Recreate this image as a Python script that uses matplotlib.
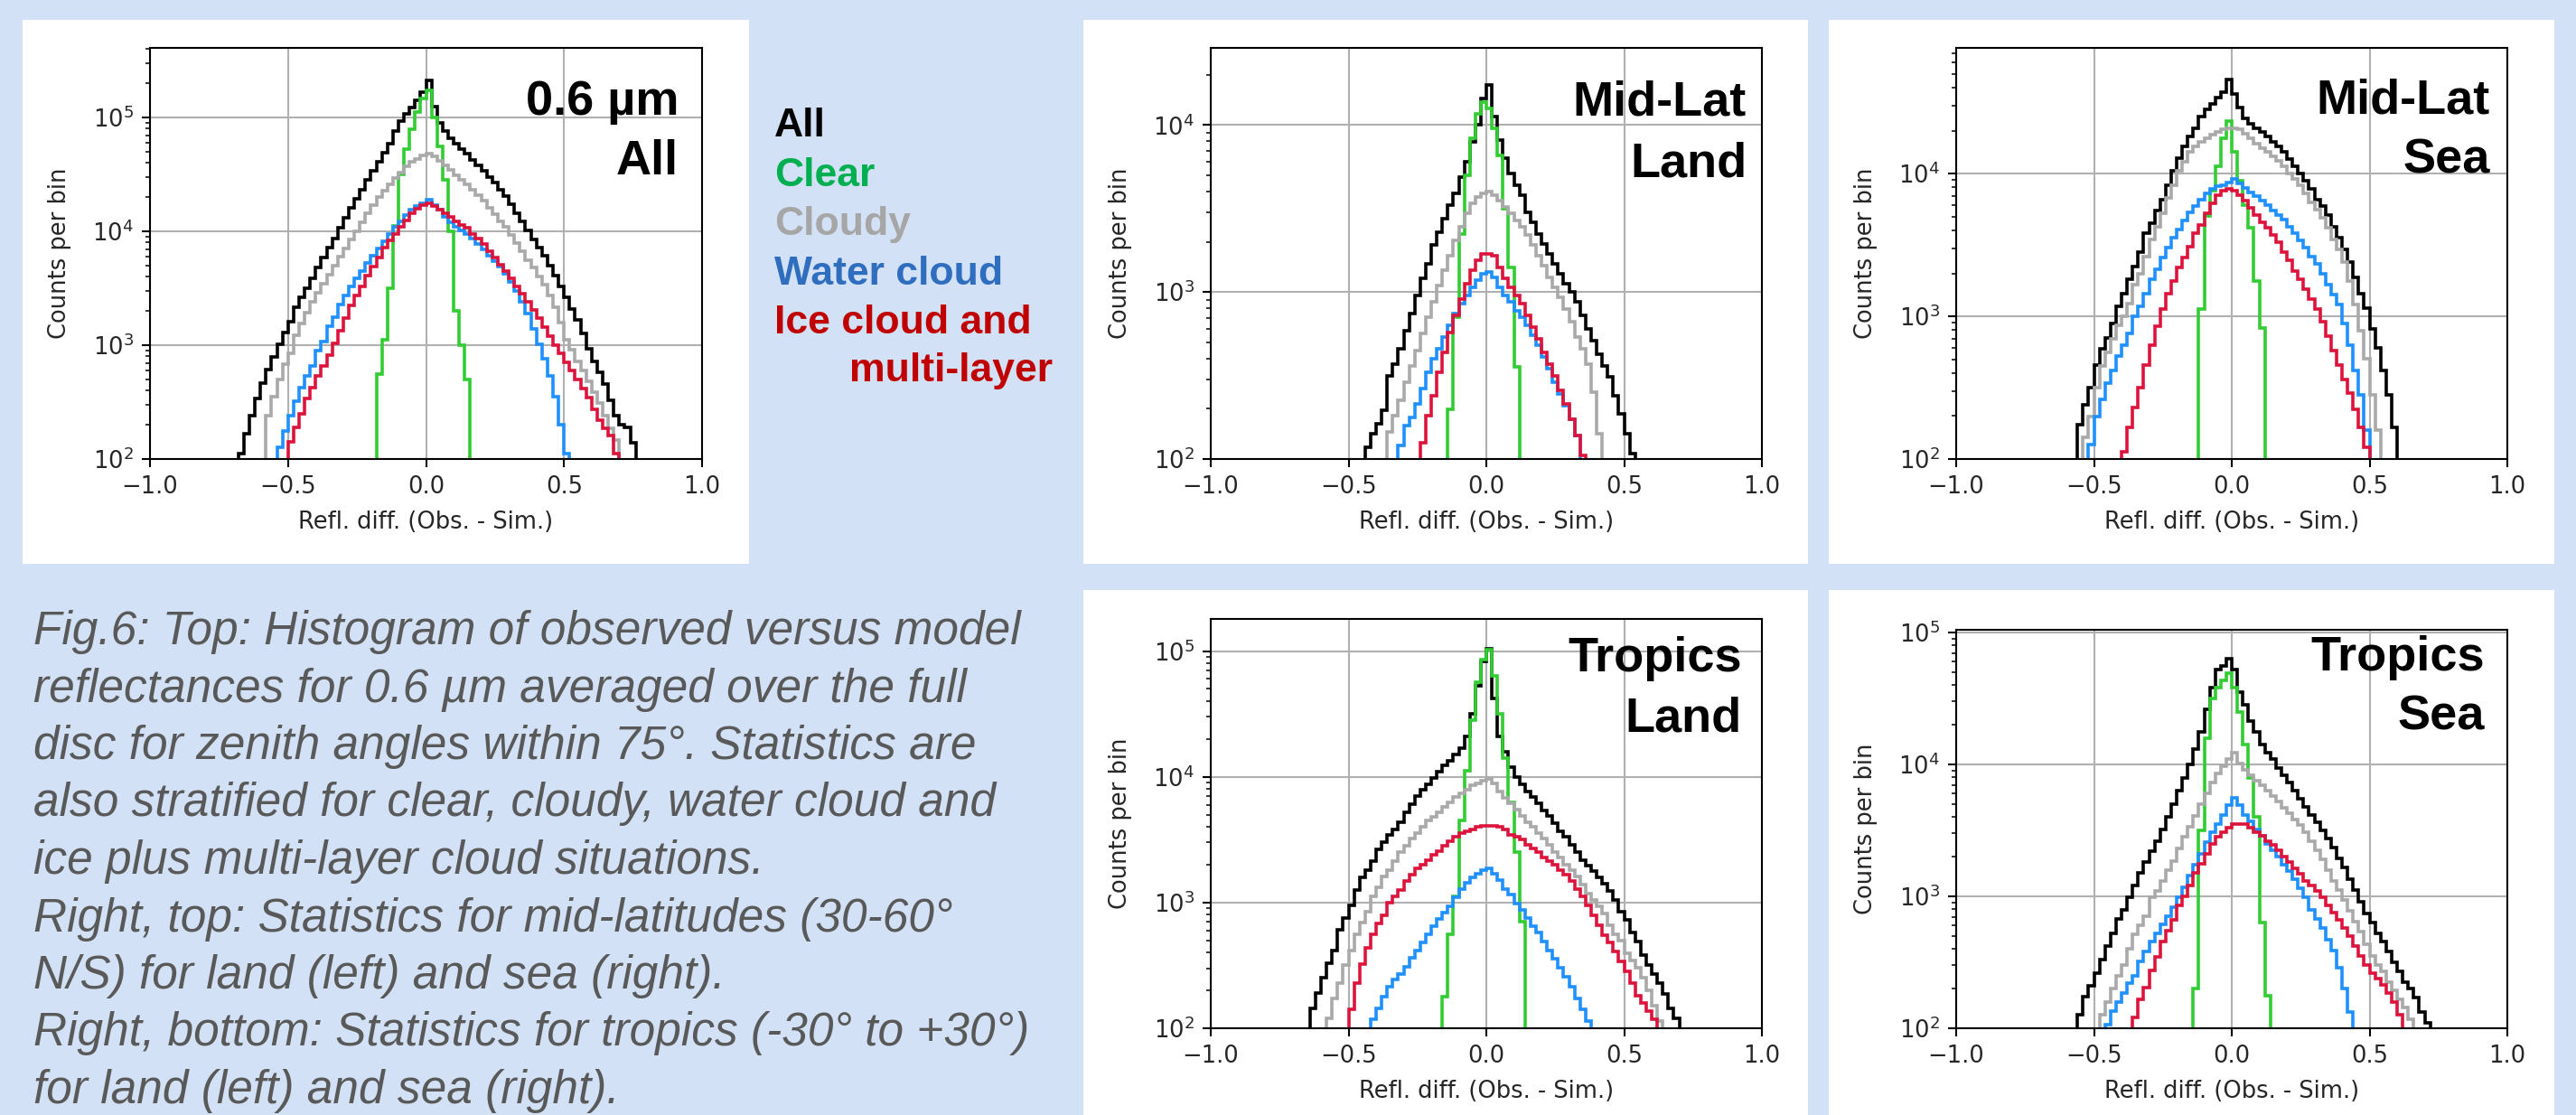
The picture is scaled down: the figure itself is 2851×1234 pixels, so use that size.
import numpy as np
import matplotlib
matplotlib.use("Agg")
import matplotlib.pyplot as plt
from matplotlib.patches import Rectangle

# ---------------- data: log10(counts per bin), bins of width 0.02 ----------------
BIN = 0.02

# Panel 1: 0.6 um, All
p1_all_x0 = -0.70
p1_all = [1.9, 2.05, 2.22, 2.38, 2.53, 2.67, 2.79, 2.90, 3.01, 3.11, 3.21, 3.33, 3.42, 3.50, 3.59,
          3.68, 3.77, 3.86, 3.94, 4.03, 4.12, 4.21, 4.29, 4.37, 4.45, 4.53, 4.61, 4.69, 4.77, 4.88,
          4.97, 5.03, 5.09, 5.15, 5.22, 5.33, 5.10, 4.95, 4.88, 4.82, 4.77, 4.72, 4.68, 4.63, 4.58,
          4.53, 4.48, 4.43, 4.37, 4.31, 4.24, 4.16, 4.09, 4.01, 3.93, 3.86, 3.79, 3.70, 3.61, 3.52,
          3.42, 3.32, 3.22, 3.10, 2.97, 2.86, 2.76, 2.66, 2.52, 2.38, 2.30, 2.28, 2.14, 1.8]
p1_clear_x0 = -0.18
p1_clear = [2.75, 3.05, 3.50, 4.05, 4.50, 4.72, 4.90, 5.05, 5.17, 5.24, 5.00, 4.75, 4.45, 4.00,
            3.30, 3.00, 2.70, 1.5]
p1_cloudy_x0 = -0.60
p1_cloudy = [1.9, 2.38, 2.55, 2.70, 2.83, 2.93, 3.09, 3.19, 3.29, 3.38, 3.46, 3.54, 3.62, 3.70, 3.78,
             3.85, 3.93, 4.00, 4.08, 4.16, 4.23, 4.30, 4.36, 4.41, 4.47, 4.52, 4.57, 4.61, 4.64, 4.67,
             4.68, 4.66, 4.62, 4.58, 4.54, 4.49, 4.45, 4.41, 4.37, 4.32, 4.27, 4.21, 4.15, 4.09, 4.04,
             3.97, 3.90, 3.83, 3.75, 3.68, 3.60, 3.53, 3.44, 3.33, 3.20, 3.05, 2.96, 2.86, 2.78, 2.68,
             2.59, 2.49, 2.38, 2.27, 2.17, 1.8]
p1_water_x0 = -0.56
p1_water = [1.95, 2.10, 2.25, 2.38, 2.51, 2.63, 2.73, 2.82, 2.95, 3.03, 3.17, 3.25, 3.36, 3.44, 3.52,
            3.59, 3.65, 3.72, 3.79, 3.85, 3.91, 3.98, 4.04, 4.09, 4.14, 4.19, 4.22, 4.25, 4.28, 4.23,
            4.19, 4.13, 4.08, 4.04, 4.01, 3.98, 3.94, 3.89, 3.84, 3.79, 3.74, 3.69, 3.63, 3.56, 3.48,
            3.38, 3.28, 3.14, 3.01, 2.88, 2.73, 2.55, 2.30, 2.05, 1.8]
p1_ice_x0 = -0.52
p1_ice = [1.9, 2.15, 2.28, 2.40, 2.53, 2.63, 2.73, 2.82, 2.91, 3.02, 3.13, 3.24, 3.35, 3.44, 3.52,
          3.61, 3.69, 3.77, 3.86, 3.92, 3.98, 4.04, 4.10, 4.16, 4.20, 4.23, 4.25, 4.22, 4.19, 4.16,
          4.13, 4.09, 4.06, 4.03, 3.98, 3.94, 3.89, 3.83, 3.77, 3.71, 3.65, 3.59, 3.52, 3.45, 3.38,
          3.31, 3.24, 3.16, 3.08, 3.00, 2.93, 2.85, 2.78, 2.70, 2.62, 2.54, 2.44, 2.34, 2.27, 2.21,
          2.05, 1.8]

# Panel 2: Mid-Lat Land
p2_all_x0 = -0.46
p2_all = [1.8, 2.07, 2.15, 2.21, 2.29, 2.50, 2.57, 2.66, 2.77, 2.87, 2.98, 3.08, 3.17, 3.28, 3.36,
          3.44, 3.52, 3.59, 3.69, 3.78, 3.90, 4.00, 4.16, 4.24, 4.05, 3.91, 3.80, 3.71, 3.64, 3.58,
          3.48, 3.42, 3.35, 3.29, 3.23, 3.17, 3.11, 3.05, 3.00, 2.94, 2.86, 2.78, 2.71, 2.63, 2.56,
          2.49, 2.38, 2.27, 2.15, 2.03, 1.8]
p2_clear_x0 = -0.16
p2_clear = [1.5, 2.3, 2.85, 3.35, 3.70, 3.92, 4.07, 4.14, 4.10, 3.98, 3.82, 3.50, 3.15, 2.55, 1.5]
p2_cloudy_x0 = -0.38
p2_cloudy = [1.8, 2.16, 2.26, 2.35, 2.46, 2.56, 2.65, 2.75, 2.85, 2.94, 3.04, 3.13, 3.22, 3.31, 3.39,
             3.47, 3.53, 3.57, 3.59, 3.60, 3.58, 3.55, 3.51, 3.47, 3.43, 3.39, 3.34, 3.28, 3.22, 3.16,
             3.09, 3.03, 2.97, 2.90, 2.82, 2.73, 2.66, 2.57, 2.40, 2.15, 1.8]
p2_water_x0 = -0.34
p2_water = [1.8, 2.08, 2.20, 2.25, 2.33, 2.42, 2.52, 2.60, 2.66, 2.73, 2.80, 2.87, 2.93, 2.98, 3.03,
            3.07, 3.11, 3.12, 3.09, 3.03, 2.98, 2.94, 2.89, 2.85, 2.80, 2.74, 2.68, 2.61, 2.54, 2.46,
            2.39, 2.32, 2.24, 2.14, 1.8]
p2_ice_x0 = -0.26
p2_ice = [1.8, 2.10, 2.26, 2.38, 2.52, 2.64, 2.76, 2.86, 2.96, 3.05, 3.13, 3.19, 3.23, 3.23, 3.22,
          3.15, 3.08, 3.03, 2.98, 2.93, 2.86, 2.79, 2.72, 2.64, 2.57, 2.50, 2.41, 2.33, 2.24, 2.14,
          2.02, 1.8]

# Panel 3: Mid-Lat Sea
p3_all_x0 = -0.58
p3_all = [1.8, 2.24, 2.38, 2.50, 2.66, 2.77, 2.85, 2.95, 3.07, 3.16, 3.26, 3.35, 3.45, 3.58, 3.65,
          3.74, 3.82, 3.92, 4.02, 4.11, 4.19, 4.26, 4.32, 4.40, 4.45, 4.49, 4.53, 4.57, 4.66, 4.56,
          4.46, 4.39, 4.35, 4.32, 4.29, 4.26, 4.22, 4.19, 4.15, 4.10, 4.05, 4.00, 3.95, 3.89, 3.82,
          3.77, 3.71, 3.63, 3.55, 3.47, 3.38, 3.27, 3.16, 3.06, 2.91, 2.78, 2.62, 2.45, 2.22, 1.8]
p3_clear_x0 = -0.14
p3_clear = [1.5, 3.05, 3.70, 3.88, 4.05, 4.25, 4.37, 4.15, 3.95, 3.78, 3.62, 3.25, 2.92, 1.5]
p3_cloudy_x0 = -0.56
p3_cloudy = [1.8, 2.15, 2.30, 2.50, 2.65, 2.75, 2.84, 2.94, 3.00, 3.09, 3.22, 3.30, 3.42, 3.54, 3.63,
             3.72, 3.83, 3.92, 4.02, 4.08, 4.15, 4.19, 4.22, 4.25, 4.27, 4.29, 4.31, 4.32, 4.32, 4.31,
             4.28, 4.25, 4.21, 4.18, 4.15, 4.12, 4.09, 4.05, 4.00, 3.96, 3.92, 3.86, 3.80, 3.75, 3.69,
             3.62, 3.54, 3.47, 3.38, 3.25, 3.08, 2.90, 2.70, 2.45, 2.20, 1.8]
p3_water_x0 = -0.54
p3_water = [1.8, 2.1, 2.30, 2.42, 2.53, 2.62, 2.72, 2.80, 2.88, 3.00, 3.07, 3.16, 3.26, 3.33, 3.41,
            3.48, 3.55, 3.61, 3.67, 3.73, 3.77, 3.82, 3.86, 3.89, 3.91, 3.92, 3.94, 3.96, 3.93, 3.90,
            3.87, 3.84, 3.81, 3.78, 3.74, 3.71, 3.68, 3.63, 3.58, 3.53, 3.48, 3.42, 3.37, 3.30, 3.22,
            3.15, 3.08, 2.95, 2.80, 2.62, 2.45, 2.20, 1.8]
p3_ice_x0 = -0.42
p3_ice = [1.8, 2.05, 2.22, 2.36, 2.50, 2.66, 2.80, 2.93, 3.05, 3.16, 3.25, 3.34, 3.41, 3.49, 3.58,
          3.64, 3.72, 3.79, 3.85, 3.88, 3.89, 3.88, 3.85, 3.81, 3.76, 3.71, 3.66, 3.62, 3.57, 3.52,
          3.45, 3.39, 3.32, 3.26, 3.19, 3.12, 3.05, 2.96, 2.86, 2.76, 2.66, 2.56, 2.46, 2.35, 2.22,
          2.08, 1.8]

# Panel 4: Tropics Land
p4_all_x0 = -0.66
p4_all = [1.8, 2.16, 2.28, 2.40, 2.52, 2.62, 2.78, 2.88, 2.98, 3.10, 3.20, 3.26, 3.33, 3.42, 3.48,
          3.54, 3.58, 3.64, 3.72, 3.78, 3.85, 3.90, 3.94, 3.99, 4.04, 4.09, 4.13, 4.18, 4.23, 4.32,
          4.50, 4.72, 4.92, 5.02, 4.62, 4.32, 4.20, 4.08, 4.00, 3.94, 3.88, 3.84, 3.79, 3.73, 3.69,
          3.63, 3.57, 3.52, 3.46, 3.40, 3.34, 3.29, 3.25, 3.20, 3.15, 3.09, 3.02, 2.93, 2.86, 2.76,
          2.69, 2.58, 2.50, 2.43, 2.36, 2.27, 2.16, 2.08, 1.8]
p4_clear_x0 = -0.18
p4_clear = [1.5, 2.25, 2.75, 3.05, 3.65, 4.05, 4.45, 4.75, 4.93, 5.01, 4.80, 4.50, 4.15, 3.80, 3.40,
            2.85, 1.5]
p4_cloudy_x0 = -0.60
p4_cloudy = [1.8, 2.08, 2.24, 2.36, 2.50, 2.62, 2.75, 2.84, 2.93, 3.05, 3.12, 3.21, 3.26, 3.33, 3.40,
             3.45, 3.51, 3.55, 3.60, 3.65, 3.68, 3.72, 3.76, 3.80, 3.84, 3.87, 3.90, 3.93, 3.95, 3.97,
             3.98, 3.95, 3.88, 3.83, 3.79, 3.74, 3.69, 3.64, 3.60, 3.55, 3.51, 3.46, 3.40, 3.36, 3.30,
             3.26, 3.21, 3.14, 3.07, 3.02, 2.97, 2.91, 2.82, 2.75, 2.70, 2.60, 2.54, 2.48, 2.40, 2.30,
             2.18, 2.06, 1.8]
p4_water_x0 = -0.44
p4_water = [1.8, 2.07, 2.16, 2.25, 2.33, 2.39, 2.43, 2.49, 2.56, 2.62, 2.68, 2.75, 2.81, 2.87, 2.92,
            2.97, 3.04, 3.11, 3.16, 3.20, 3.23, 3.26, 3.27, 3.23, 3.18, 3.11, 3.06, 2.99, 2.94, 2.88,
            2.81, 2.76, 2.69, 2.62, 2.55, 2.48, 2.41, 2.33, 2.24, 2.15, 2.06, 1.8]
p4_ice_x0 = -0.52
p4_ice = [1.8, 2.15, 2.36, 2.51, 2.64, 2.75, 2.83, 2.90, 3.00, 3.05, 3.10, 3.17, 3.22, 3.27, 3.30,
          3.34, 3.38, 3.41, 3.45, 3.49, 3.52, 3.55, 3.57, 3.58, 3.60, 3.61, 3.61, 3.61, 3.60, 3.58,
          3.54, 3.52, 3.50, 3.46, 3.43, 3.40, 3.36, 3.33, 3.30, 3.26, 3.22, 3.17, 3.11, 3.05, 2.98,
          2.90, 2.82, 2.74, 2.68, 2.61, 2.53, 2.45, 2.36, 2.26, 2.20, 2.14, 2.07, 1.8]

# Panel 5: Tropics Sea
p5_all_x0 = -0.58
p5_all = [1.8, 2.10, 2.24, 2.32, 2.42, 2.52, 2.62, 2.72, 2.83, 2.90, 2.99, 3.08, 3.18, 3.26, 3.34,
          3.42, 3.51, 3.60, 3.70, 3.80, 3.90, 4.00, 4.12, 4.25, 4.42, 4.58, 4.72, 4.75, 4.80, 4.72,
          4.55, 4.45, 4.33, 4.25, 4.15, 4.09, 4.04, 3.97, 3.92, 3.86, 3.80, 3.74, 3.68, 3.62, 3.56,
          3.50, 3.44, 3.37, 3.29, 3.22, 3.13, 3.05, 2.96, 2.87, 2.80, 2.72, 2.66, 2.58, 2.50, 2.43,
          2.35, 2.30, 2.23, 2.12, 2.04, 1.8]
p5_clear_x0 = -0.16
p5_clear = [1.5, 2.3, 3.50, 4.20, 4.50, 4.58, 4.64, 4.69, 4.58, 4.40, 4.15, 3.90, 3.60, 2.80, 2.25, 1.5]
p5_cloudy_x0 = -0.50
p5_cloudy = [1.8, 2.10, 2.20, 2.30, 2.40, 2.48, 2.60, 2.71, 2.78, 2.85, 2.99, 3.04, 3.12, 3.20, 3.27,
             3.36, 3.45, 3.53, 3.61, 3.70, 3.78, 3.86, 3.93, 3.99, 4.04, 4.09, 4.01, 3.96, 3.92, 3.88,
             3.84, 3.80, 3.76, 3.72, 3.67, 3.63, 3.58, 3.54, 3.49, 3.42, 3.35, 3.28, 3.20, 3.12, 3.05,
             2.97, 2.89, 2.81, 2.73, 2.64, 2.55, 2.48, 2.43, 2.35, 2.29, 2.22, 2.16, 2.07, 1.8]
p5_water_x0 = -0.48
p5_water = [1.8, 2.03, 2.13, 2.20, 2.27, 2.34, 2.40, 2.51, 2.58, 2.66, 2.72, 2.79, 2.85, 2.92, 2.99,
            3.07, 3.16, 3.24, 3.32, 3.41, 3.49, 3.55, 3.62, 3.69, 3.75, 3.69, 3.62, 3.57, 3.51, 3.46,
            3.40, 3.35, 3.30, 3.24, 3.19, 3.13, 3.06, 2.99, 2.90, 2.83, 2.76, 2.67, 2.59, 2.46, 2.30,
            2.12, 1.8]
p5_ice_x0 = -0.38
p5_ice = [1.8, 2.08, 2.22, 2.31, 2.44, 2.54, 2.66, 2.74, 2.82, 2.93, 3.00, 3.08, 3.18, 3.25, 3.32,
          3.40, 3.45, 3.49, 3.52, 3.55, 3.55, 3.55, 3.52, 3.49, 3.46, 3.42, 3.39, 3.35, 3.30, 3.26,
          3.21, 3.17, 3.12, 3.08, 3.04, 2.99, 2.93, 2.88, 2.82, 2.76, 2.70, 2.62, 2.55, 2.48, 2.42,
          2.38, 2.33, 2.27, 2.20, 2.10, 1.8]

panel_titles = [("0.6 µm", "All"), ("Mid-Lat", "Land"), ("Mid-Lat", "Sea"),
                ("Tropics", "Land"), ("Tropics", "Sea")]
panel_ytop = [4.1e5, 2.9e4, 7.6e4, 1.8e5, 1.05e5]
x_ticks = [-1.0, -0.5, 0.0, 0.5, 1.0]
xlabel_text = "Refl. diff. (Obs. - Sim.)"
ylabel_text = "Counts per bin"

legend_labels = ["All", "Clear", "Cloudy", "Water cloud", "Ice cloud and", "multi-layer"]

caption_lines = [
    "Fig.6: Top: Histogram of observed versus model",
    "reflectances for 0.6 µm averaged over the full",
    "disc for zenith angles within 75°. Statistics are",
    "also stratified for clear, cloudy, water cloud and",
    "ice plus multi-layer cloud situations.",
    "Right, top: Statistics for mid-latitudes (30-60°",
    "N/S) for land (left) and sea (right).",
    "Right, bottom: Statistics for tropics (-30° to +30°)",
    "for land (left) and sea (right).",
]

# ---------------- styling / layout ----------------
W, H = 2851, 1234
BG = "#d2e1f5"
LINE_COLORS = ["black", "#32cd32", "#a9a9a9", "#1e90ff", "#dc143c"]
LEG_COLORS = ["#000000", "#00b050", "#a6a6a6", "#2f6dbf", "#c00000", "#c00000"]
LW = 2.6
FS = 18.5
TXT = "#262626"

white_boxes = [(25, 22, 829, 624), (1199, 22, 2001, 624), (2024, 22, 2827, 624),
               (1199, 653, 2001, 1234), (2024, 653, 2827, 1234)]
axes_boxes = [(166, 53, 777, 508), (1340, 53, 1950, 508), (2165, 53, 2775, 508),
              (1340, 685, 1950, 1138), (2165, 697, 2775, 1138)]
title_pos = [(751, 127, 193), (1933, 127, 195), (2756, 125, 192),
             (1928, 743, 810), (2750, 742, 808)]

panels = [
    [(p1_all_x0, p1_all), (p1_clear_x0, p1_clear), (p1_cloudy_x0, p1_cloudy),
     (p1_water_x0, p1_water), (p1_ice_x0, p1_ice)],
    [(p2_all_x0, p2_all), (p2_clear_x0, p2_clear), (p2_cloudy_x0, p2_cloudy),
     (p2_water_x0, p2_water), (p2_ice_x0, p2_ice)],
    [(p3_all_x0, p3_all), (p3_clear_x0, p3_clear), (p3_cloudy_x0, p3_cloudy),
     (p3_water_x0, p3_water), (p3_ice_x0, p3_ice)],
    [(p4_all_x0, p4_all), (p4_clear_x0, p4_clear), (p4_cloudy_x0, p4_cloudy),
     (p4_water_x0, p4_water), (p4_ice_x0, p4_ice)],
    [(p5_all_x0, p5_all), (p5_clear_x0, p5_clear), (p5_cloudy_x0, p5_cloudy),
     (p5_water_x0, p5_water), (p5_ice_x0, p5_ice)],
]


def fx(x):
    return x / W


def fy(y):
    return 1.0 - y / H


fig = plt.figure(figsize=(W / 100, H / 100), dpi=100, facecolor=BG)

for (x0, y0, x1, y1) in white_boxes:
    fig.add_artist(Rectangle((fx(x0), fy(y1)), (x1 - x0) / W, (y1 - y0) / H,
                             transform=fig.transFigure, facecolor="white",
                             edgecolor="none", zorder=-5))

for k, series in enumerate(panels):
    l, t, r, b = axes_boxes[k]
    ax = fig.add_axes([fx(l), fy(b), (r - l) / W, (b - t) / H])
    ax.set_facecolor("white")
    for (x0, logs), col in zip(series, LINE_COLORS):
        vals = 10.0 ** np.asarray(logs, dtype=float)
        edges = x0 + BIN * np.arange(len(vals) + 1)
        ax.stairs(vals, edges, baseline=10, color=col, lw=LW)
    ax.set_yscale("log")
    ax.set_xlim(-1, 1)
    ax.set_ylim(100, panel_ytop[k])
    ax.set_xticks(x_ticks)
    ax.grid(True, which="major", color="#b0b0b0", lw=1.5)
    ax.set_axisbelow(True)
    for sp in ax.spines.values():
        sp.set_linewidth(1.5)
    ax.tick_params(which="major", labelsize=FS, length=6.5, width=1.5, pad=6.5,
                   labelcolor=TXT)
    ax.tick_params(which="minor", length=3.7, width=1.1)
    ax.set_xlabel(xlabel_text, fontsize=FS, color=TXT)
    ax.set_ylabel(ylabel_text, fontsize=FS, color=TXT)
    ax.xaxis.label.set_va("center")
    ax.yaxis.label.set_va("center")
    ax.yaxis.label.set_ha("center")
    ax.xaxis.set_label_coords(0.5, -70.0 / (b - t))
    ax.yaxis.set_label_coords(-100.0 / (r - l), 0.5)

    xr, yb1, yb2 = title_pos[k]
    for txt, yb in zip(panel_titles[k], (yb1, yb2)):
        fig.text(fx(xr), fy(yb), txt, ha="right", va="baseline",
                 family="Liberation Sans", weight="bold", fontsize=39, color="black")

# legend text
leg_x = [857, 857, 857, 857, 857, 940]
leg_base = [151, 206, 260, 315, 369, 422]
for lab, col, xx, yy in zip(legend_labels, LEG_COLORS, leg_x, leg_base):
    fig.text(fx(xx), fy(yy), lab, ha="left", va="baseline", family="Liberation Sans",
             weight="bold", fontsize=32, color=col)

# caption
for i, line in enumerate(caption_lines):
    fig.text(fx(37), fy(713 + 63.5 * i), line, ha="left", va="baseline",
             family="Liberation Sans", style="italic", fontsize=37, color="#595959")

fig.savefig("out.png", dpi=100, facecolor=BG)
